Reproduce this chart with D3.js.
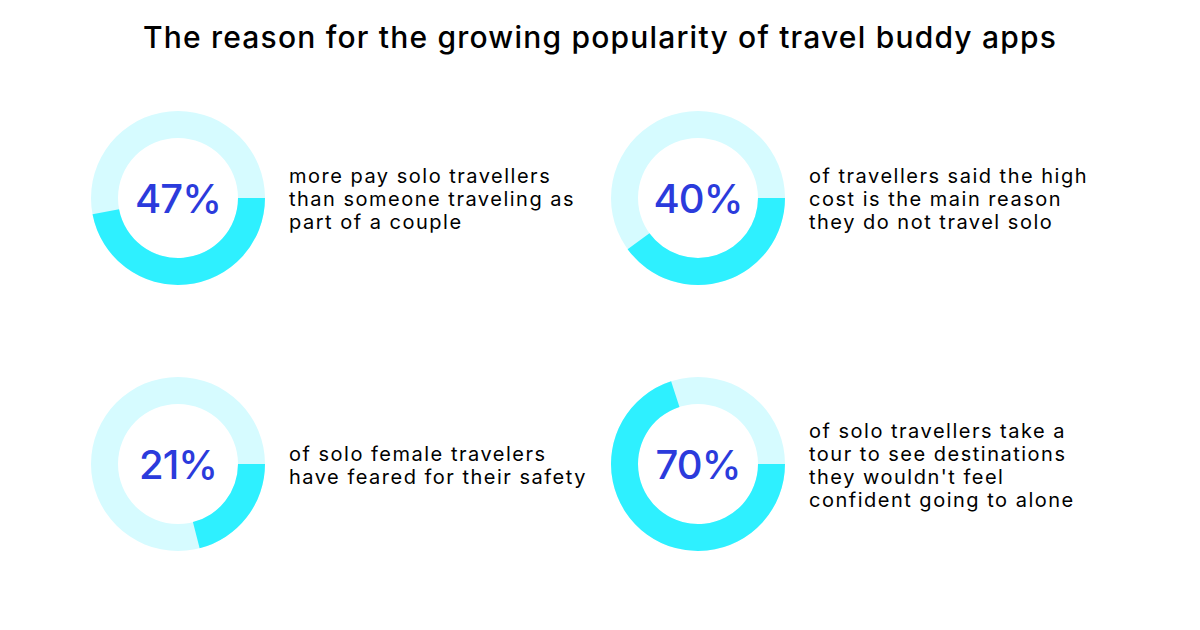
<!DOCTYPE html>
<html>
<meta charset="utf-8">
<style>
body { margin: 0; background: #fff; }
</style>
<script src="https://d3js.org/d3.v7.min.js"></script>
<body>
<div id="chart"></div>
<script>
var title = "The reason for the growing popularity of travel buddy apps";
var percents = [47, 40, 21, 70];
var labels = [
    ["more pay solo travellers", "than someone traveling as", "part of a couple"],
    ["of travellers said the high", "cost is the main reason", "they do not travel solo"],
    ["of solo female travelers", "have feared for their safety"],
    ["of solo travellers take a", "tour to see destinations", "they wouldn't feel", "confident going to alone"]
];

var width = 1200, height = 630;
var svg = d3.select("#chart").append("svg")
    .attr("width", width)
    .attr("height", height);

svg.append("text")
    .attr("x", 600).attr("y", 48)
    .attr("text-anchor", "middle")
    .attr("font-family", "Inter, sans-serif")
    .attr("font-weight", 500)
    .attr("font-size", 30)
    .attr("letter-spacing", 1.2)
    .attr("fill", "#000")
    .text(title);

// grid positions for the four donuts
var col = d3.scalePoint().domain([0, 1]).range([178, 698]);
var row = d3.scalePoint().domain([0, 1]).range([198, 464]);
var angle = d3.scaleLinear().domain([0, 100]).range([Math.PI / 2, Math.PI / 2 + 2 * Math.PI]);

var arc = d3.arc().innerRadius(60).outerRadius(87);

var g = svg.selectAll("g.item")
    .data(percents)
    .enter().append("g")
    .attr("class", "item")
    .attr("transform", (d, i) => "translate(" + col(i % 2) + "," + row(Math.floor(i / 2)) + ")");

g.append("path")
    .attr("fill", "#d6fbff")
    .attr("d", arc({ startAngle: 0, endAngle: 2 * Math.PI }));

g.append("path")
    .attr("fill", "#2ef0ff")
    .attr("d", d => arc({ startAngle: angle(0), endAngle: angle(d) }));

g.append("text")
    .attr("text-anchor", "middle")
    .attr("dy", 15)
    .attr("font-family", "Inter, sans-serif")
    .attr("font-weight", 500)
    .attr("font-size", 40)
    .attr("letter-spacing", -1)
    .attr("fill", "#2b3bdc")
    .text(d => d + "%");

g.append("text")
    .attr("font-family", "Inter, sans-serif")
    .attr("font-size", 20)
    .attr("letter-spacing", 1.5)
    .attr("fill", "#000")
    .attr("x", 111)
    .attr("y", (d, i) => -(labels[i].length - 1) * 23 / 2 + 8)
    .selectAll("tspan")
    .data((d, i) => labels[i])
    .enter().append("tspan")
    .attr("x", 111)
    .attr("dy", (t, j) => j === 0 ? 0 : 23)
    .text(t => t);
</script>
</body>
</html>
